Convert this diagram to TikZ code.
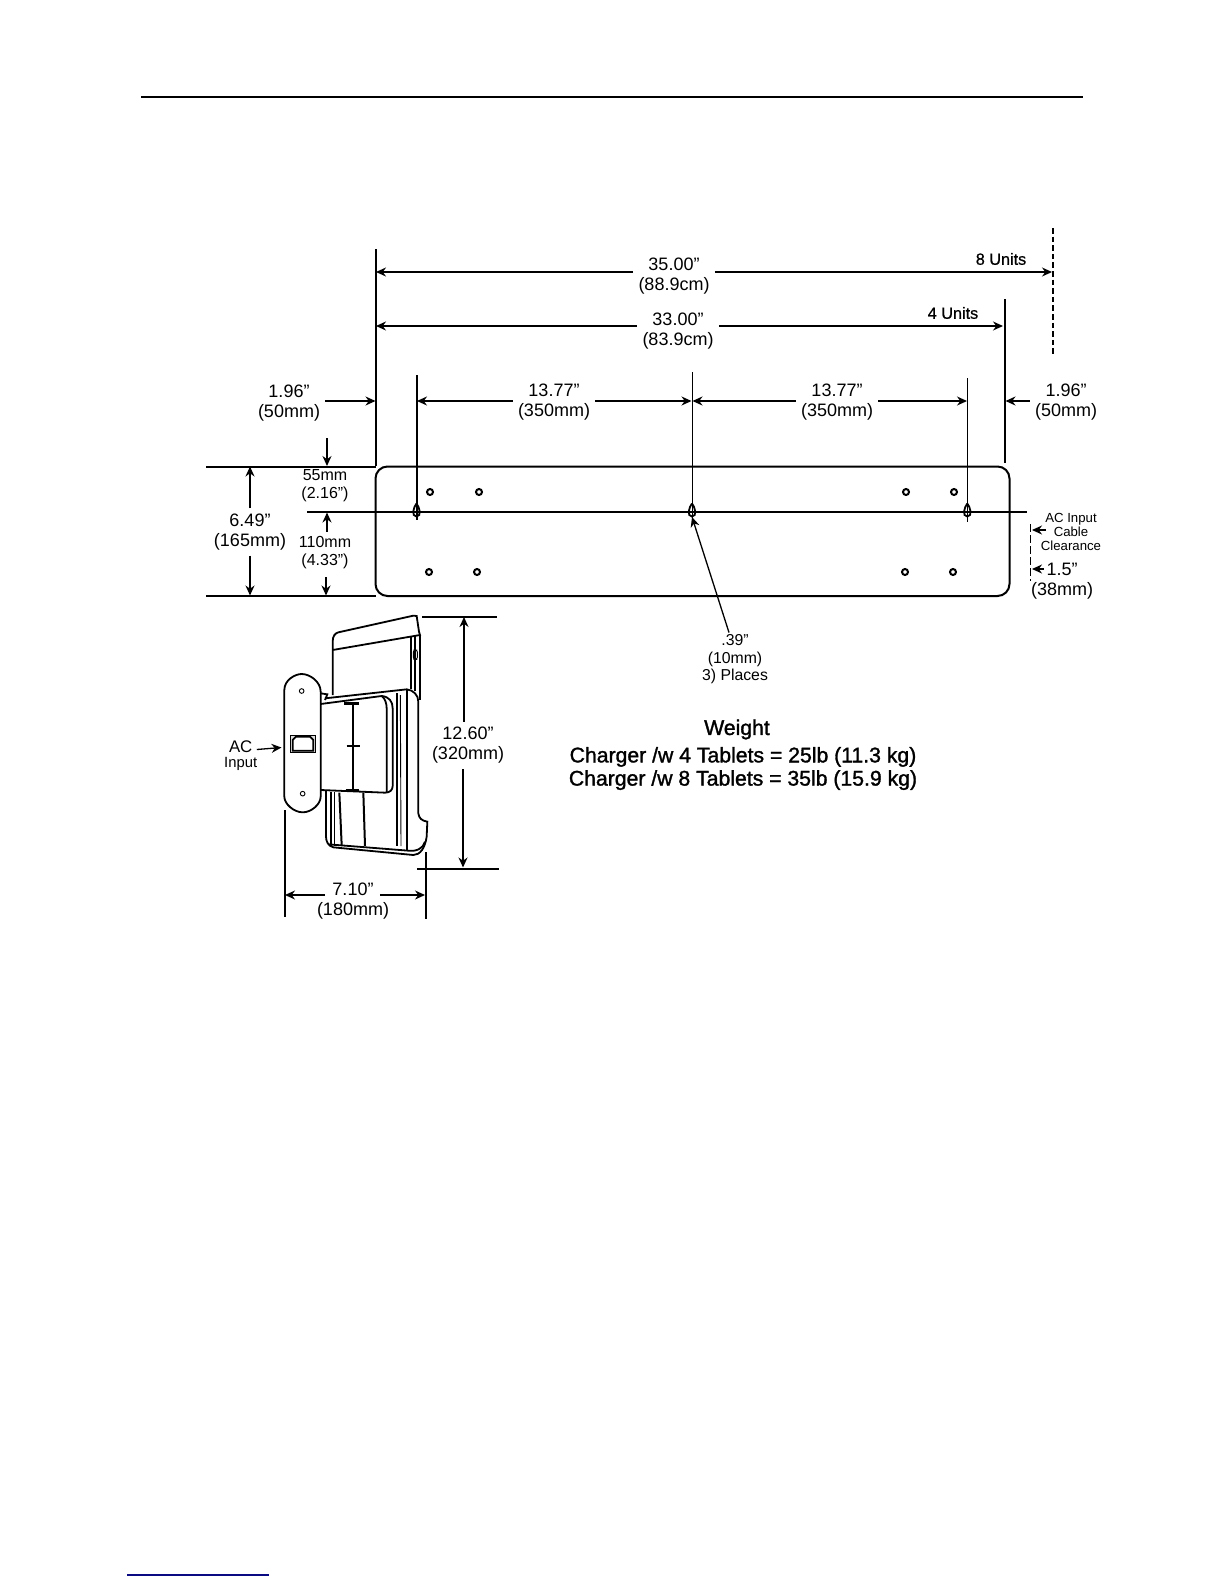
\documentclass[tikz,border=0pt]{standalone}
\usepackage{fontspec}
\setmainfont{Liberation Sans}
\newfontfamily\heavyfont[FakeBold=0.7]{Liberation Sans}
\newfontfamily\chargerfont[FakeBold=1.4]{Liberation Sans}
\usetikzlibrary{arrows.meta}
\definecolor{linkblue}{RGB}{10,10,130}
\tikzset{
  dimline/.style={line width=0.65pt,-{Stealth[length=5pt,width=4.5pt]}},
  extline/.style={line width=1pt},
  thinline/.style={line width=0.45pt},
  partline/.style={line width=0.9pt},
  dimtext/.style={align=center,inner sep=2.5pt,font=\fontsize{9}{10}\selectfont},
  smalltext/.style={align=center,inner sep=2pt,font=\fontsize{8}{9}\selectfont},
  tinytext/.style={align=center,inner sep=1pt,font=\fontsize{6.6}{6.9}\selectfont},
  unittext/.style={inner sep=1pt,font=\fontsize{8.1}{9}\heavyfont},
  weighttext/.style={align=center,inner sep=1pt,font=\fontsize{10.6}{11.6}\chargerfont}
}
\begin{document}
\begin{tikzpicture}[x=0.5pt,y=-0.5pt]
\useasboundingbox (0,0) rectangle (1224,1584);
% page rules
\draw[line width=0.9pt] (141,97) -- (1083,97);
\draw[linkblue,line width=0.7pt] (127,1575) -- (269,1575);
% extension lines
\draw[extline] (376,249) -- (376,466);
\draw[extline] (1005,299) -- (1005,463);
\draw[line width=0.6pt,dash pattern=on 2.8pt off 1.5pt] (1053,228) -- (1053,355);
\draw[extline] (416.5,375) -- (416.5,520);
\draw[thinline] (692,372) -- (692,520);
\draw[thinline,line width=0.6pt] (967.3,378) -- (967.3,522);
\draw[extline] (206,466.5) -- (376,466.5);
\draw[extline] (206,596) -- (376,596);
\draw[extline] (307,512) -- (1027,512);
% back panel
\draw[extline,rounded corners=6pt] (375.5,466.5) rectangle (1009.5,596);
\foreach \hx/\hy in {430/492,479/492,906/492,954/492,429/572,477/572,905/572,953/572}
  \draw[extline] (\hx,\hy) circle (3);
\foreach \kx in {416.5,692,967.3}
  \draw[partline] (\kx,503.5) .. controls ({\kx+3},507) and ({\kx+5.5},516.5) .. (\kx,516.5) .. controls ({\kx-5.5},516.5) and ({\kx-3},507) .. (\kx,503.5);
% overall widths
\coordinate (e35l) at (376,272);
\coordinate (e35r) at (1052,272);
\coordinate (e33l) at (376,326);
\coordinate (e33r) at (1003,326);
\node[dimtext] (lbl35) at (674,276) {35.00”\\(88.9cm)};
\node[dimtext] (lbl33) at (678,331) {33.00”\\(83.9cm)};
\node[unittext] (lbl8u) at (1001,259) {8 Units};
\node[unittext] (lbl4u) at (953,313) {4 Units};
\draw[dimline] (lbl35.west |- e35l) -- (e35l);
\draw[dimline] (lbl35.east |- e35r) -- (e35r);
\draw[dimline] (lbl33.west |- e33l) -- (e33l);
\draw[dimline] (lbl33.east |- e33r) -- (e33r);
% hole spacing
\coordinate (s1) at (417,401);
\coordinate (s2) at (691.5,401);
\coordinate (s3) at (692.5,401);
\coordinate (s4) at (967,401);
\coordinate (m1) at (375.5,401);
\coordinate (m2) at (1005.5,401);
\node[dimtext] (lbl13a) at (554,402) {13.77”\\(350mm)};
\node[dimtext] (lbl13b) at (837,402) {13.77”\\(350mm)};
\node[dimtext] (lbl50a) at (289,403) {1.96”\\(50mm)};
\node[dimtext] (lbl50b) at (1066,402.5) {1.96”\\(50mm)};
\draw[dimline] (lbl13a.west |- s1) -- (s1);
\draw[dimline] (lbl13a.east |- s2) -- (s2);
\draw[dimline] (lbl13b.west |- s3) -- (s3);
\draw[dimline] (lbl13b.east |- s4) -- (s4);
\draw[dimline] (lbl50a.east |- m1) -- (m1);
\draw[dimline] (lbl50b.west |- m2) -- (m2);
% panel height
\coordinate (h1) at (250,466.5);
\coordinate (h2) at (250,595.5);
\coordinate (k1) at (327,466);
\coordinate (k1t) at (327,438);
\coordinate (k2) at (327,512.5);
\coordinate (k3) at (326,595.5);
\coordinate (k3t) at (326,577);
\node[dimtext] (lbl165) at (250,532) {6.49”\\(165mm)};
\node[smalltext] (lbl55) at (325,485.5) {55mm\\(2.16”)};
\node[smalltext] (lbl110) at (325,552.5) {110mm\\(4.33”)};
\draw[dimline] (lbl165) -- (h1);
\draw[dimline] (lbl165) -- (h2);
\draw[dimline] (k1t) -- (k1);
\draw[dimline] (lbl110.north -| k2) -- (k2);
\draw[dimline] (k3t) -- (k3);
% cable clearance
\coordinate (c1) at (1032,530);
\coordinate (c2) at (1032,569);
\coordinate (c1t) at (1046,530);
\node[tinytext] (lblcable) at (1071,532) {AC Input\\Cable\\Clearance};
\node[dimtext,inner sep=0pt] (lbl38a) at (1062,569) {1.5”};
\node[dimtext,inner sep=0pt] (lbl38b) at (1062,591) {(38mm)};
\draw[line width=0.5pt,dash pattern=on 4pt off 1.5pt] (1030,524) -- (1030,581);
\draw[dimline,line width=0.6pt] (c1t) -- (c1);
\draw[dimline,line width=0.6pt] (lbl38a.west) ++(-2,0) -- (c2);
% hole size
\coordinate (keytip) at (692,517);
\node[smalltext,font=\fontsize{7.9}{8.7}\selectfont] (lblkey) at (735,659.5) {.39”\\(10mm)\\3) Places};
\draw[dimline] (lblkey.north) ++(-6,2) -- (keytip);
% weight
\node[weighttext] (lblweight) at (737,729.5) {Weight};
\node[weighttext] (lblcharger) at (743,768.5) {Charger /w 4 Tablets = 25lb (11.3 kg)\\Charger /w 8 Tablets = 35lb (15.9 kg)};
% side view, traced
\begin{scope}[shift={(200,600)},scale=1/3]
\draw[partline,fill=white] (398,285) -- (398,125) .. controls (398,108) and (405,100) .. (415,97) -- (640,47) -- (650,48) -- (657,95) -- (660,105) -- (398,150);
\draw[partline] (632,110) -- (632,268);
\draw[partline] (645,105) -- (645,272);
\draw[partline] (660,105) -- (660,300);
\draw[thinline,rounded corners=1pt] (640,150) rectangle (652,178);
\draw[partline,fill=white] (375,295) -- (620,268) .. controls (640,270) and (655,285) .. (655,305) -- (655,640) .. controls (657,655) and (665,662) .. (682,665) -- (680,710) .. controls (675,745) and (660,765) .. (640,765) -- (400,742) .. controls (385,738) and (378,725) .. (378,710) -- (378,570);
\draw[partline] (385,733) -- (625,752) .. controls (650,755) and (670,745) .. (675,725);
\draw[partline] (620,270) -- (620,750);
\draw[line width=1.1pt] (592,280) -- (592,738);
\draw[thinline] (601,285) -- (603,738);
\draw[line width=1.1pt] (392,575) -- (392,738);
\draw[thinline] (403,575) -- (403,738);
\draw[line width=1pt] (418,578) -- (425,735);
\draw[line width=1pt] (490,578) -- (495,738);
\draw[partline,fill=white] (362,312) -- (545,288) .. controls (568,290) and (578,305) .. (578,325) -- (578,558) .. controls (578,570) and (570,578) .. (555,578) -- (362,570);
\draw[partline] (545,288) .. controls (555,295) and (560,310) .. (560,325) -- (560,578);
\draw[partline] (362,280) -- (382,283) -- (375,300);
\draw[partline] (458,310) -- (458,570);
\draw[line width=1.4pt] (432,311) -- (476,311);
\draw[partline] (440,438) -- (480,438);
\draw[line width=1.4pt] (437,570) -- (477,570);
\draw[partline,fill=white] (253,270) .. controls (253,240) and (285,222) .. (305,222) .. controls (330,222) and (362,245) .. (362,275) -- (362,590) .. controls (362,612) and (335,637) .. (308,637) .. controls (282,637) and (253,612) .. (253,590) -- cycle;
\draw[thinline] (305,273) circle (7);
\draw[thinline] (308,581) circle (7);
\draw[thinline,fill=gray!25] (270,405) rectangle (347,458);
\draw[partline,fill=white] (278,420) -- (288,410) -- (330,410) -- (340,420) -- (340,452) -- (278,452) -- cycle;
\end{scope}
% side view dimensions
\coordinate (t1) at (464,617);
\coordinate (t2) at (463,867.5);
\coordinate (w1) at (285,895);
\coordinate (w1t) at (325,895);
\coordinate (w2) at (425,895);
\coordinate (w2t) at (380,895);
\coordinate (plug) at (281.5,747.5);
\draw[extline] (422,617) -- (497,617);
\draw[extline] (417,868.5) -- (499,868.5);
\draw[extline] (284.5,810) -- (284.5,917);
\draw[extline] (425.5,852) -- (425.5,919);
\node[dimtext] (lbl320) at (468,745.5) {12.60”\\(320mm)};
\node[dimtext] (lbl180) at (353,901) {7.10”\\(180mm)};
\node[smalltext,font=\fontsize{8.4}{8.6}\selectfont] (lblac) at (240.7,746.5) {AC};
\node[smalltext,font=\fontsize{7.4}{8}\selectfont] (lblin) at (240.7,763.5) {Input};
\draw[dimline] (lbl320.north -| t1) -- (t1);
\draw[dimline] (lbl320.south -| t2) -- (t2);
\draw[dimline] (w1t) -- (w1);
\draw[dimline] (w2t) -- (w2);
\draw[dimline] (lblac.east) ++(0,3) -- (plug);
\end{tikzpicture}
\end{document}
